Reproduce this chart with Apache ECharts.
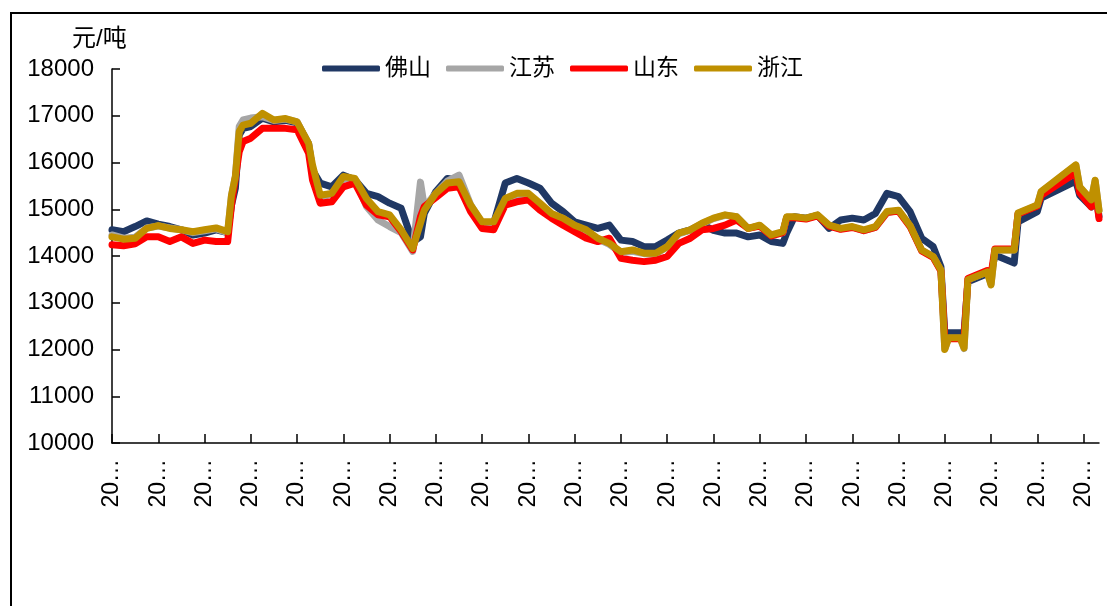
<!DOCTYPE html>
<html>
<head>
<meta charset="utf-8">
<script src="https://cdn.jsdelivr.net/npm/echarts@6/dist/echarts.min.js"></script>
<style>
html,body{margin:0;padding:0;background:#fff;}
#chart{width:1107px;height:606px;}
</style>
</head>
<body>
<div id="chart"></div>
<script>
// ---- data ----
const categoryCount = 257;           // daily category slots on the x axis
const xTickText = '20…';             // truncated date labels as shown
const seriesNames = ['佛山', '江苏', '山东', '浙江'];
const unitLabel = '元/吨';

// category positions at which values were read
const sampleIdx = [0,3,6,9,12,15,18,21,24,27,30,31,32,33,34,36,39,42,45,48,51,52,54,57,60,63,66,69,72,75,78,80,81,84,87,90,93,96,99,102,105,108,111,114,117,120,123,126,129,132,135,138,141,144,147,150,153,156,159,162,165,168,171,174,175,177,180,183,186,189,192,195,198,201,204,207,210,213,215,216,217,220,221,222,227,228,229,234,235,240,241,250,251,254,255,256];

const foshan = [14560,14520,14630,14750,14680,14630,14560,14450,14490,14560,14500,15090,15450,16590,16730,16770,16950,16870,16900,16850,16400,15840,15560,15480,15730,15630,15340,15270,15130,15020,14300,14410,14910,15380,15660,15620,15050,14630,14700,15560,15660,15560,15450,15130,14950,14730,14660,14590,14660,14340,14310,14200,14200,14340,14490,14560,14680,14550,14490,14490,14410,14450,14310,14270,14490,14840,14810,14870,14590,14770,14810,14770,14910,15340,15270,14950,14380,14200,13770,12360,12360,12360,12360,13450,13620,13600,14020,13850,14730,14950,15240,15600,15300,15050,15450,14850];

const jiangsu = [14450,14380,14400,14600,14640,14600,14560,14500,14540,14580,14500,15300,15700,16770,16910,16950,16980,16900,16930,16870,16380,15850,15250,15330,15650,15640,15060,14770,14630,14500,14100,15580,15050,15340,15600,15730,15100,14700,14720,15200,15300,15300,15100,14900,14800,14650,14540,14360,14250,14070,14100,14050,14040,14190,14470,14550,14690,14800,14870,14840,14590,14650,14440,14500,14830,14830,14800,14870,14650,14580,14620,14540,14610,14930,14970,14640,14120,13980,13690,12010,12240,12240,12020,13500,13660,13400,14130,14130,14910,15080,15370,15940,15470,15190,15610,14970];

const shandong = [14240,14220,14260,14410,14410,14310,14410,14270,14340,14310,14310,15090,15670,16230,16450,16520,16730,16730,16730,16700,16200,15630,15130,15160,15480,15560,15090,14880,14840,14520,14130,14840,15060,15250,15450,15480,14950,14590,14560,15090,15160,15200,14980,14810,14660,14520,14380,14310,14380,13950,13910,13880,13910,13990,14270,14380,14560,14590,14660,14770,14590,14640,14430,14500,14820,14820,14790,14860,14640,14570,14610,14540,14610,14930,14960,14630,14110,13970,13680,12230,12230,12230,12230,13520,13690,13600,14150,14150,14900,15070,15300,15780,15350,15050,15450,14800];

const zhejiang = [14410,14360,14380,14590,14650,14590,14560,14520,14560,14600,14520,15300,15700,16660,16800,16840,17050,16910,16940,16870,16410,15950,15300,15340,15700,15660,15230,14950,14880,14560,14160,14700,14980,15340,15560,15590,15090,14730,14730,15230,15340,15340,15130,14910,14810,14660,14560,14380,14270,14090,14130,14060,14060,14200,14490,14560,14700,14810,14880,14840,14590,14660,14450,14520,14840,14840,14810,14880,14660,14590,14630,14560,14630,14950,14980,14650,14130,13990,13700,12000,12250,12250,12030,13490,13660,13380,14130,14130,14920,15090,15380,15950,15480,15200,15620,14980];

const yTicks = {min: 10000, max: 18000, interval: 1000};
const seriesColors = ['#203864', '#A6A6A6', '#FF0000', '#BF9000'];

// ---- chart ----
const categories = Array.from({length: categoryCount}, (_, i) => String(i));
const seriesValues = [foshan, jiangsu, shandong, zhejiang];
const FONT = '"Liberation Sans", "Noto Sans CJK SC", sans-serif';

const chart = echarts.init(document.getElementById('chart'), null, {renderer: 'canvas'});
chart.setOption({
  animation: false,
  backgroundColor: '#fff',
  textStyle: {fontFamily: FONT, color: '#000'},
  grid: {left: 112, right: 8, top: 69, bottom: 163, containLabel: false},
  legend: {
    left: 322, top: 57, padding: 0,
    itemWidth: 58, itemHeight: 6, itemGap: 15,
    icon: 'roundRect',
    textStyle: {fontSize: 23, color: '#000', fontFamily: FONT},
    data: seriesNames
  },
  xAxis: {
    type: 'category',
    data: categories,
    boundaryGap: false,
    axisLine: {show: true, lineStyle: {color: '#000', width: 1.5}},
    axisTick: {show: true, inside: true, length: 9, interval: 11, lineStyle: {color: '#000', width: 1.5}},
    axisLabel: {
      interval: 11, rotate: 90, margin: 16,
      fontSize: 23, color: '#000', fontFamily: FONT,
      formatter: () => xTickText
    },
    splitLine: {show: false}
  },
  yAxis: {
    type: 'value',
    min: yTicks.min, max: yTicks.max, interval: yTicks.interval,
    axisLine: {show: true, lineStyle: {color: '#000', width: 1.5}},
    axisTick: {show: true, inside: true, length: 8, lineStyle: {color: '#000', width: 1.5}},
    axisLabel: {fontSize: 24, color: '#000', margin: 18, fontFamily: FONT,
      formatter: (v) => String(v)},
    splitLine: {show: false}
  },
  graphic: [
    {type: 'rect', silent: true, z: 100,
     shape: {x: 11, y: 13, width: 1200, height: 700},
     style: {fill: 'transparent', stroke: '#000', lineWidth: 2}},
    {type: 'text', left: 72, top: 27,
     style: {text: unitLabel, font: '24px ' + FONT, fill: '#000'}}
  ],
  series: seriesNames.map((name, s) => ({
    name: name,
    type: 'line',
    symbol: 'none',
    color: seriesColors[s],
    lineStyle: {width: 7, color: seriesColors[s], cap: 'round', join: 'round'},
    data: sampleIdx.map((c, j) => [c, seriesValues[s][j]])
  }))
});
</script>
</body>
</html>
